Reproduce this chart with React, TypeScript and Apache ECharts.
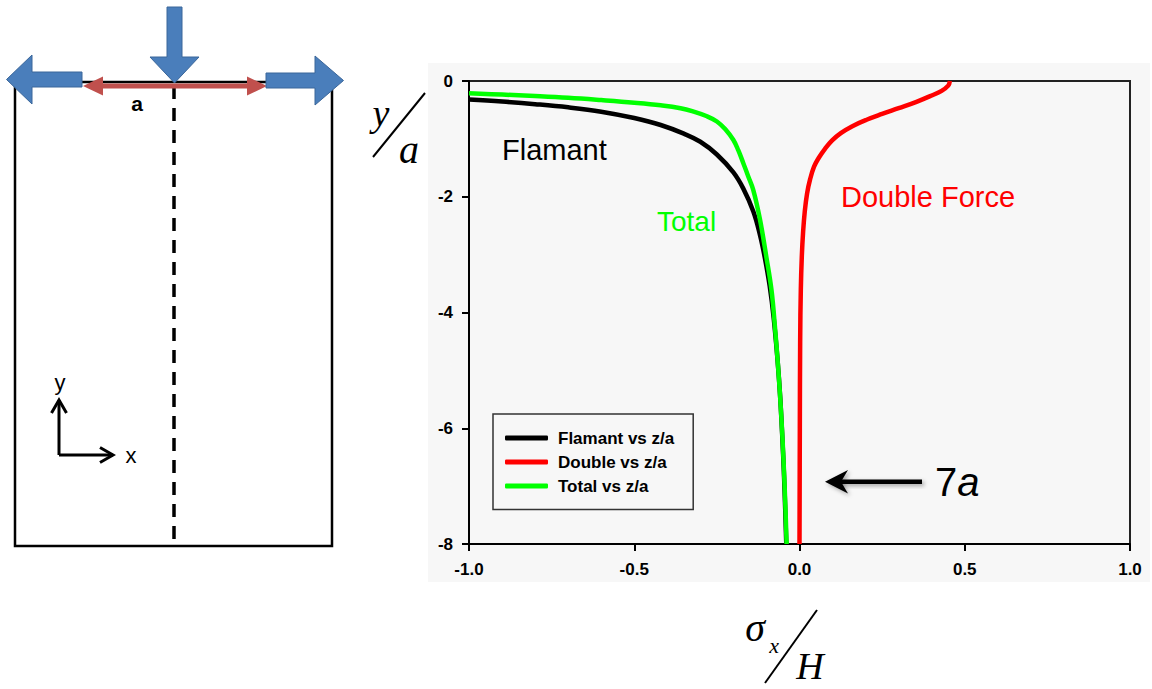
import React, { useEffect, useRef } from "react";
import * as echarts from "echarts";

// Stress along the load axis, sigma_x / H, against depth y / a
const flamantX = [-1.0, -0.9, -0.8, -0.7, -0.6, -0.5, -0.42, -0.35, -0.3, -0.25, -0.2, -0.17, -0.14, -0.12, -0.105, -0.09, -0.078, -0.066, -0.058, -0.05, -0.045, -0.04];
const flamantY = [-0.32, -0.355, -0.4, -0.455, -0.53, -0.64, -0.76, -0.91, -1.05, -1.27, -1.58, -1.86, -2.25, -2.65, -3.05, -3.55, -4.1, -4.85, -5.5, -6.4, -7.1, -8.0];

const doubleX = [0.455, 0.45, 0.43, 0.4, 0.354, 0.3, 0.25, 0.203, 0.16, 0.125, 0.098, 0.076, 0.058, 0.044, 0.032, 0.023, 0.016, 0.011, 0.007, 0.004, 0.002, 0.001, 0.0];
const doubleY = [0.0, -0.08, -0.17, -0.25, -0.36, -0.47, -0.57, -0.67, -0.78, -0.9, -1.03, -1.18, -1.33, -1.48, -1.7, -1.94, -2.25, -2.6, -3.03, -3.6, -4.5, -6.0, -8.0];

const totalX = [-1.0, -0.9, -0.8, -0.7, -0.6, -0.5, -0.42, -0.36, -0.32, -0.28, -0.25, -0.225, -0.2, -0.185, -0.17, -0.155, -0.14, -0.12, -0.1, -0.085, -0.075, -0.064, -0.055, -0.048, -0.043, -0.039];
const totalY = [-0.21, -0.235, -0.26, -0.29, -0.33, -0.375, -0.42, -0.47, -0.53, -0.61, -0.7, -0.83, -1.02, -1.2, -1.42, -1.65, -1.88, -2.38, -3.05, -3.6, -4.2, -5.0, -5.8, -6.6, -7.3, -8.0];

const seriesNames = ["Flamant vs z/a", "Double vs z/a", "Total vs z/a"];
const seriesColors = ["#000000", "#ff0000", "#00ff00"];

const xTicks = { min: -1, max: 1, step: 0.5 };
const yTicks = { min: -8, max: 0, step: 2 };

const SANS = "'Liberation Sans', Arial, Helvetica, sans-serif";
const SERIF = "'Liberation Serif', 'Times New Roman', Times, serif";

const zip = (xs: number[], ys: number[]) => xs.map((x, i) => [x, ys[i]]);

const BLUE = "#4a7ebb";
const BLUE_EDGE = "#3a669a";
const RED_ARROW = "#c0504d";
const SHADOW = { shadowBlur: 4, shadowOffsetX: 2, shadowOffsetY: 2, shadowColor: "rgba(0,0,0,0.35)" };

function sketchGraphics() {
  return [
    // grey panel behind the plot
    { type: "rect", z: -10, shape: { x: 428, y: 63, width: 722, height: 519 }, style: { fill: "#f7f7f7" } },

    // loaded block
    { type: "rect", z: 1, shape: { x: 15, y: 82, width: 317, height: 464 }, style: { fill: "none", stroke: "#000", lineWidth: 2.5 } },
    { type: "line", z: 1, shape: { x1: 174, y1: 86, x2: 174, y2: 540 }, style: { stroke: "#000", lineWidth: 3.5, lineDash: [13, 9] } },

    // applied forces
    {
      type: "polygon", z: 3,
      shape: { points: [[167, 7], [182, 7], [182, 57], [199, 57], [174.5, 83], [150, 57], [167, 57]] },
      style: { fill: BLUE, stroke: BLUE_EDGE, lineWidth: 1 },
    },
    {
      type: "polygon", z: 3,
      shape: { points: [[82, 72], [82, 87], [32, 87], [32, 104], [6.5, 79.5], [32, 55], [32, 72]] },
      style: { fill: BLUE, stroke: BLUE_EDGE, lineWidth: 1 },
    },
    {
      type: "polygon", z: 3,
      shape: { points: [[266, 73], [315, 73], [315, 56], [343.5, 80.5], [315, 105], [315, 88], [266, 88]] },
      style: { fill: BLUE, stroke: BLUE_EDGE, lineWidth: 1 },
    },
    {
      type: "polygon", z: 2,
      shape: {
        points: [[83, 86], [103, 76.5], [103, 83.5], [247, 83.5], [247, 76.5], [267, 86], [247, 95.5], [247, 88.5], [103, 88.5], [103, 95.5]],
      },
      style: { fill: RED_ARROW },
    },
    { type: "text", z: 3, x: 137, y: 103, style: { text: "a", font: `bold 21px ${SANS}`, fill: "#000", align: "center", verticalAlign: "middle" } },

    // coordinate axes marker
    { type: "polyline", z: 3, shape: { points: [[59, 455], [59, 400]] }, style: { stroke: "#000", lineWidth: 3 } },
    { type: "polyline", z: 3, shape: { points: [[51.5, 413], [59, 400], [66.5, 413]] }, style: { stroke: "#000", lineWidth: 3, fill: "none" } },
    { type: "polyline", z: 3, shape: { points: [[59, 455], [113, 455]] }, style: { stroke: "#000", lineWidth: 3 } },
    { type: "polyline", z: 3, shape: { points: [[100, 447.5], [113, 455], [100, 462.5]] }, style: { stroke: "#000", lineWidth: 3, fill: "none" } },
    { type: "text", z: 3, x: 60, y: 382, style: { text: "y", font: `22px ${SANS}`, fill: "#000", align: "center", verticalAlign: "middle" } },
    { type: "text", z: 3, x: 131, y: 455, style: { text: "x", font: `22px ${SANS}`, fill: "#000", align: "center", verticalAlign: "middle" } },

    // axis titles
    { type: "text", z: 3, x: 381, y: 113, style: { text: "y", font: `italic 38px ${SERIF}`, fill: "#000", align: "center", verticalAlign: "middle" } },
    { type: "line", z: 3, shape: { x1: 373, y1: 157, x2: 425, y2: 93 }, style: { stroke: "#000", lineWidth: 2 } },
    { type: "text", z: 3, x: 409, y: 149, style: { text: "a", font: `italic 40px ${SERIF}`, fill: "#000", align: "center", verticalAlign: "middle" } },

    { type: "text", z: 3, x: 755, y: 627, style: { text: "σ", font: `italic 40px ${SERIF}`, fill: "#000", align: "center", verticalAlign: "middle" } },
    { type: "text", z: 3, x: 774, y: 645, style: { text: "x", font: `italic 22px ${SERIF}`, fill: "#000", align: "center", verticalAlign: "middle" } },
    { type: "line", z: 3, shape: { x1: 765, y1: 683, x2: 817, y2: 610 }, style: { stroke: "#000", lineWidth: 2 } },
    { type: "text", z: 3, x: 810, y: 666, style: { text: "H", font: `italic 38px ${SERIF}`, fill: "#000", align: "center", verticalAlign: "middle" } },

    // curve annotations
    { type: "text", z: 10, x: 502, y: 150, style: { text: "Flamant", font: `29px ${SANS}`, fill: "#000", align: "left", verticalAlign: "middle" } },
    { type: "text", z: 10, x: 657, y: 221, style: { text: "Total", font: `28px ${SANS}`, fill: seriesColors[2], align: "left", verticalAlign: "middle" } },
    { type: "text", z: 10, x: 841, y: 197, style: { text: "Double Force", font: `29px ${SANS}`, fill: seriesColors[1], align: "left", verticalAlign: "middle" } },

    // 7a marker arrow (shaft drawn as a thin rect so its shadow renders)
    {
      type: "rect", z: 10,
      shape: { x: 838, y: 479.5, width: 84, height: 4.5 },
      style: { fill: "#000", ...SHADOW },
    },
    {
      type: "polygon", z: 10,
      shape: { points: [[825, 481.7], [848, 470], [841, 481.7], [848, 493.4]] },
      style: { fill: "#000", ...SHADOW },
    },
    {
      type: "text", z: 10, x: 935, y: 482,
      style: {
        text: "{n|7}{i|a}",
        align: "left",
        verticalAlign: "middle",
        fill: "#000",
        rich: {
          n: { fontSize: 40, fontFamily: SANS, fill: "#000" },
          i: { fontSize: 40, fontFamily: SANS, fontStyle: "italic", fill: "#000" },
        },
      },
    },
  ];
}

export default function App() {
  const ref = useRef<HTMLDivElement>(null);

  useEffect(() => {
    if (!ref.current) return;
    const chart = echarts.init(ref.current, undefined, { renderer: "svg" });

    const datasets = [zip(flamantX, flamantY), zip(doubleX, doubleY), zip(totalX, totalY)];

    chart.setOption({
      animation: false,
      backgroundColor: "#ffffff",
      grid: {
        left: 469,
        right: 22,
        top: 81,
        bottom: 145,
        show: true,
        borderColor: "#222",
        borderWidth: 2,
        backgroundColor: "transparent",
      },
      legend: {
        orient: "vertical",
        left: 493,
        top: 414,
        padding: [15.5, 19, 15, 12],
        itemGap: 7,
        itemWidth: 43,
        itemHeight: 5,
        icon: "roundRect",
        borderColor: "#333",
        borderWidth: 1.5,
        data: seriesNames,
        textStyle: { fontFamily: SANS, fontWeight: "bold", fontSize: 17, color: "#000", padding: [0, 0, 0, 5] },
      },
      xAxis: {
        type: "value",
        min: xTicks.min,
        max: xTicks.max,
        interval: xTicks.step,
        splitLine: { show: false },
        axisLine: { show: true, onZero: false, lineStyle: { color: "#000", width: 2 } },
        axisTick: { show: true, inside: false, length: 7, lineStyle: { color: "#000", width: 2 } },
        axisLabel: {
          margin: 17,
          fontFamily: SANS,
          fontWeight: "bold",
          fontSize: 17,
          color: "#000",
          formatter: (v: number) => v.toFixed(1),
        },
      },
      yAxis: {
        type: "value",
        min: yTicks.min,
        max: yTicks.max,
        interval: yTicks.step,
        splitLine: { show: false },
        axisLine: { show: true, onZero: false, lineStyle: { color: "#000", width: 2 } },
        axisTick: { show: true, inside: false, length: 7, lineStyle: { color: "#000", width: 2 } },
        axisLabel: { margin: 16, fontFamily: SANS, fontWeight: "bold", fontSize: 17, color: "#000" },
      },
      series: seriesNames.map((name, i) => ({
        name,
        type: "line",
        data: datasets[i],
        smooth: 0.4,
        symbol: "none",
        z: 3 + i,
        itemStyle: { color: seriesColors[i] },
        lineStyle: { color: seriesColors[i], width: 4.5 },
      })),
      graphic: sketchGraphics(),
    });

    return () => chart.dispose();
  }, []);

  return <div ref={ref} style={{ position: "absolute", left: 0, top: 0, width: 1152, height: 689 }} />;
}
